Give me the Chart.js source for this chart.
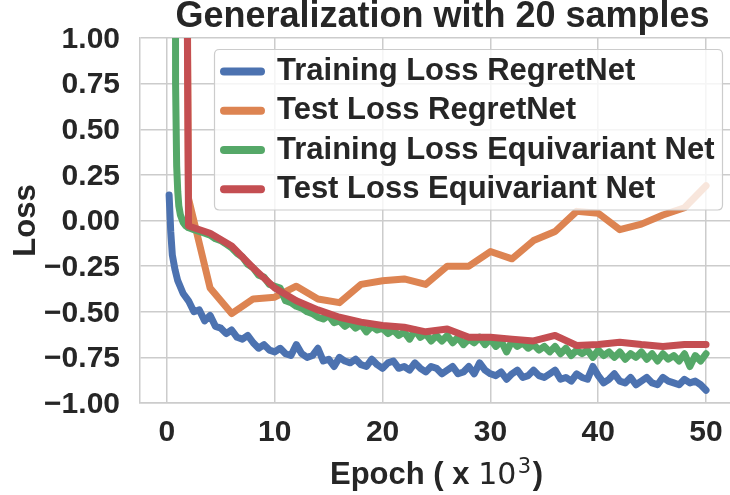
<!DOCTYPE html>
<html>
<head>
<meta charset="utf-8">
<script src="https://cdn.jsdelivr.net/npm/chart.js@4.4.0/dist/chart.umd.min.js"></script>
<style>
html,body{margin:0;padding:0;overflow:hidden;background:#fff;width:730px;height:495px}
#wrap{width:730px;height:495px;overflow:hidden;position:relative}
canvas{display:block}
</style>
</head>
<body>
<div id="wrap"><canvas id="c" width="740" height="495" style="width:740px;height:495px"></canvas></div>
<script>
// ---- text ----
const chartTitle = 'Generalization with 20 samples';
const yAxisTitle = 'Loss';
const xTitleParts = ['Epoch ( x ', '10', '3', ')'];
const seriesLabels = ['Training Loss RegretNet', 'Test Loss RegretNet', 'Training Loss Equivariant Net', 'Test Loss Equivariant Net'];
const seriesColors = ['#4C72B0', '#DD8452', '#55A868', '#C44E52'];

// ---- ticks ----
const xTicks = [0, 10, 20, 30, 40, 50];
const yTicks = [-1, -0.75, -0.5, -0.25, 0, 0.25, 0.5, 0.75, 1];

// ---- training loss RegretNet (epoch x1000) ----
const trainRegretX = [0.2,0.35,0.5,0.75,1,1.5,2,2.5,3,3.5,4,4.5,5,5.5,6,6.5,7,7.5,8,8.5,9,9.5,10,10.5,11,11.5,12,12.5,13,13.5,14,14.5,15,15.5,16,16.5,17,17.5,18,18.5,19,19.5,20,20.5,21,21.5,22,22.5,23,23.5,24,24.5,25,25.5,26,26.5,27,27.5,28,28.5,29,29.5,30,30.5,31,31.5,32,32.5,33,33.5,34,34.5,35,35.5,36,36.5,37,37.5,38,38.5,39,39.5,40,40.5,41,41.5,42,42.5,43,43.5,44,44.5,45,45.5,46,46.5,47,47.5,48,48.5,49,49.5,50];
const trainRegretLoss = [0.14,-0.06,-0.19,-0.27,-0.33,-0.40,-0.44,-0.50,-0.49,-0.55,-0.52,-0.58,-0.59,-0.62,-0.60,-0.64,-0.65,-0.63,-0.67,-0.70,-0.68,-0.71,-0.72,-0.70,-0.73,-0.74,-0.68,-0.73,-0.75,-0.74,-0.70,-0.77,-0.76,-0.80,-0.75,-0.77,-0.78,-0.76,-0.79,-0.80,-0.76,-0.79,-0.81,-0.78,-0.77,-0.81,-0.80,-0.82,-0.78,-0.81,-0.83,-0.80,-0.81,-0.84,-0.82,-0.80,-0.84,-0.83,-0.80,-0.84,-0.78,-0.82,-0.84,-0.85,-0.83,-0.87,-0.84,-0.82,-0.86,-0.85,-0.82,-0.85,-0.86,-0.84,-0.82,-0.87,-0.86,-0.88,-0.84,-0.86,-0.87,-0.80,-0.85,-0.89,-0.87,-0.84,-0.88,-0.89,-0.86,-0.90,-0.88,-0.86,-0.89,-0.90,-0.86,-0.88,-0.89,-0.90,-0.87,-0.89,-0.88,-0.90,-0.93];

// ---- training loss Equivariant Net ----
const trainEquivX = [0.7,0.8,0.9,1,1.1,1.25,1.5,1.75,2,2.5,3,3.5,4,4.5,5,5.5,6,6.5,7,7.5,8,8.5,9,9.5,10,10.5,11,11.5,12,12.5,13,13.5,14,14.5,15,15.5,16,16.5,17,17.5,18,18.5,19,19.5,20,20.5,21,21.5,22,22.5,23,23.5,24,24.5,25,25.5,26,26.5,27,27.5,28,28.5,29,29.5,30,30.5,31,31.5,32,32.5,33,33.5,34,34.5,35,35.5,36,36.5,37,37.5,38,38.5,39,39.5,40,40.5,41,41.5,42,42.5,43,43.5,44,44.5,45,45.5,46,46.5,47,47.5,48,48.5,49,49.5,50];
const trainEquivLoss = [8,0.75,0.30,0.16,0.08,0.03,-0.01,-0.03,-0.04,-0.05,-0.06,-0.07,-0.08,-0.10,-0.11,-0.13,-0.15,-0.18,-0.20,-0.24,-0.26,-0.30,-0.31,-0.35,-0.36,-0.37,-0.44,-0.45,-0.47,-0.48,-0.50,-0.51,-0.53,-0.54,-0.52,-0.56,-0.55,-0.58,-0.56,-0.59,-0.57,-0.61,-0.58,-0.60,-0.59,-0.62,-0.60,-0.63,-0.61,-0.65,-0.60,-0.64,-0.62,-0.66,-0.63,-0.66,-0.63,-0.67,-0.64,-0.68,-0.65,-0.67,-0.64,-0.68,-0.65,-0.69,-0.66,-0.72,-0.66,-0.69,-0.67,-0.70,-0.68,-0.71,-0.69,-0.72,-0.69,-0.73,-0.70,-0.74,-0.71,-0.73,-0.71,-0.75,-0.71,-0.74,-0.72,-0.75,-0.72,-0.76,-0.73,-0.75,-0.72,-0.76,-0.73,-0.77,-0.73,-0.76,-0.74,-0.77,-0.73,-0.80,-0.74,-0.77,-0.73];

// ---- test losses (every 2k epochs) ----
const testX = [0,2,4,6,8,10,12,14,16,18,20,22,24,26,28,30,32,34,36,38,40,42,44,46,48,50];
const testRegretLoss = [20,0.12,-0.37,-0.51,-0.43,-0.42,-0.36,-0.43,-0.45,-0.35,-0.33,-0.32,-0.35,-0.25,-0.25,-0.17,-0.21,-0.11,-0.06,0.05,0.04,-0.05,-0.02,0.03,0.07,0.19];
const testEquivLoss = [20,-0.03,-0.07,-0.14,-0.26,-0.37,-0.44,-0.49,-0.53,-0.557,-0.575,-0.585,-0.61,-0.595,-0.64,-0.64,-0.65,-0.66,-0.63,-0.685,-0.68,-0.667,-0.68,-0.69,-0.68,-0.68];

const FONT = '"Liberation Sans", Arial, Helvetica, sans-serif';
const TEXT = '#262626';
const GRID = '#cccccc';

function pts(xs, ys) { return xs.map((x, i) => ({ x: x, y: ys[i] })); }

const overlay = {
  id: 'overlay',
  afterDatasetsDraw(chart) {
    const ctx = chart.ctx;
    ctx.save();
    const bx = 214.5, by = 49.5, bw = 508, bh = 160.5, r = 5;
    ctx.beginPath();
    ctx.moveTo(bx + r, by);
    ctx.lineTo(bx + bw - r, by); ctx.quadraticCurveTo(bx + bw, by, bx + bw, by + r);
    ctx.lineTo(bx + bw, by + bh - r); ctx.quadraticCurveTo(bx + bw, by + bh, bx + bw - r, by + bh);
    ctx.lineTo(bx + r, by + bh); ctx.quadraticCurveTo(bx, by + bh, bx, by + bh - r);
    ctx.lineTo(bx, by + r); ctx.quadraticCurveTo(bx, by, bx + r, by);
    ctx.closePath();
    ctx.fillStyle = 'rgba(255,255,255,0.8)';
    ctx.fill();
    ctx.lineWidth = 1.2;
    ctx.strokeStyle = GRID;
    ctx.stroke();
    chart.data.datasets.forEach((ds, i) => {
      const y = 71.6 + i * 39.2;
      ctx.beginPath();
      ctx.moveTo(224, y); ctx.lineTo(261, y);
      ctx.lineWidth = 8; ctx.lineCap = 'round';
      ctx.strokeStyle = ds.borderColor;
      ctx.stroke();
      ctx.font = 'bold 31px ' + FONT;
      ctx.fillStyle = TEXT;
      ctx.textAlign = 'left';
      ctx.textBaseline = 'middle';
      ctx.fillText(ds.label, 277, y);
    });
    ctx.restore();
  },
  afterDraw(chart) {
    const ctx = chart.ctx;
    ctx.save();
    ctx.fillStyle = TEXT;
    ctx.textBaseline = 'alphabetic';
    ctx.textAlign = 'left';
    ctx.font = 'bold 36px ' + FONT;
    const tw = ctx.measureText(chartTitle).width;
    ctx.fillText(chartTitle, 442.5 - tw / 2, 27);
    const fMain = 'bold 31px ' + FONT;
    const fMath = '30px "DejaVu Sans", sans-serif';
    const fSup = '21px "DejaVu Sans", sans-serif';
    ctx.font = fMain; const w0 = ctx.measureText(xTitleParts[0]).width;
    ctx.font = fMath; const w1 = ctx.measureText(xTitleParts[1]).width;
    ctx.font = fSup; const w2 = ctx.measureText(xTitleParts[2]).width;
    ctx.font = fMain; const w3 = ctx.measureText(xTitleParts[3]).width;
    const cx = (chart.chartArea.left + chart.chartArea.right) / 2;
    let x = cx - (w0 + w1 + w2 + 3 + w3) / 2;
    const base = 484;
    ctx.font = fMain; ctx.fillText(xTitleParts[0], x, base); x += w0;
    ctx.font = fMath; ctx.fillText(xTitleParts[1], x, base); x += w1;
    ctx.font = fSup; ctx.fillText(xTitleParts[2], x + 1.5, base - 11); x += w2 + 3;
    ctx.font = fMain; ctx.fillText(xTitleParts[3], x, base);
    ctx.restore();
  }
};

const mkDs = (i, xs, ys, order) => ({
  label: seriesLabels[i],
  data: pts(xs, ys),
  borderColor: seriesColors[i],
  backgroundColor: seriesColors[i],
  borderWidth: 7,
  pointRadius: 0,
  tension: 0,
  fill: false,
  borderCapStyle: 'round',
  borderJoinStyle: 'round',
  clip: 0,
  order: order
});

new Chart(document.getElementById('c'), {
  type: 'line',
  data: {
    datasets: [
      mkDs(0, trainRegretX, trainRegretLoss, 4),
      mkDs(1, testX, testRegretLoss, 3),
      mkDs(2, trainEquivX, trainEquivLoss, 2),
      mkDs(3, testX, testEquivLoss, 1)
    ]
  },
  options: {
    responsive: false,
    animation: false,
    devicePixelRatio: 1,
    layout: { padding: { top: 38, right: 7, left: 0, bottom: 0 } },
    plugins: { legend: { display: false }, title: { display: false }, tooltip: { enabled: false } },
    scales: {
      x: {
        type: 'linear',
        min: -2.5, max: 52.5,
        afterBuildTicks: s => { s.ticks = xTicks.map(v => ({ value: v })); },
        afterFit: s => { s.height = 92; },
        grid: { color: GRID, lineWidth: 1.5, drawTicks: false },
        border: { display: true, color: GRID, width: 1.5 },
        ticks: {
          padding: 12, autoSkip: false, maxRotation: 0,
          color: TEXT, font: { family: FONT, size: 30, weight: 'bold' },
          callback: v => String(v)
        }
      },
      y: {
        type: 'linear',
        min: -1, max: 1,
        afterBuildTicks: s => { s.ticks = yTicks.map(v => ({ value: v })); },
        afterFit: s => { s.width = 140; },
        grid: { color: GRID, lineWidth: 1.5, drawTicks: false },
        border: { display: true, color: GRID, width: 1.5 },
        ticks: {
          padding: 20, labelOffset: 1.5,
          color: TEXT, font: { family: FONT, size: 30, weight: 'bold' },
          callback: v => Number(v).toFixed(2).replace('-', '\u2212')
        },
        title: {
          display: true, text: yAxisTitle, color: TEXT,
          font: { family: FONT, size: 31, weight: 'bold' },
          padding: { top: 8, bottom: 0 }
        }
      }
    }
  },
  plugins: [overlay]
});
</script>
</body>
</html>
